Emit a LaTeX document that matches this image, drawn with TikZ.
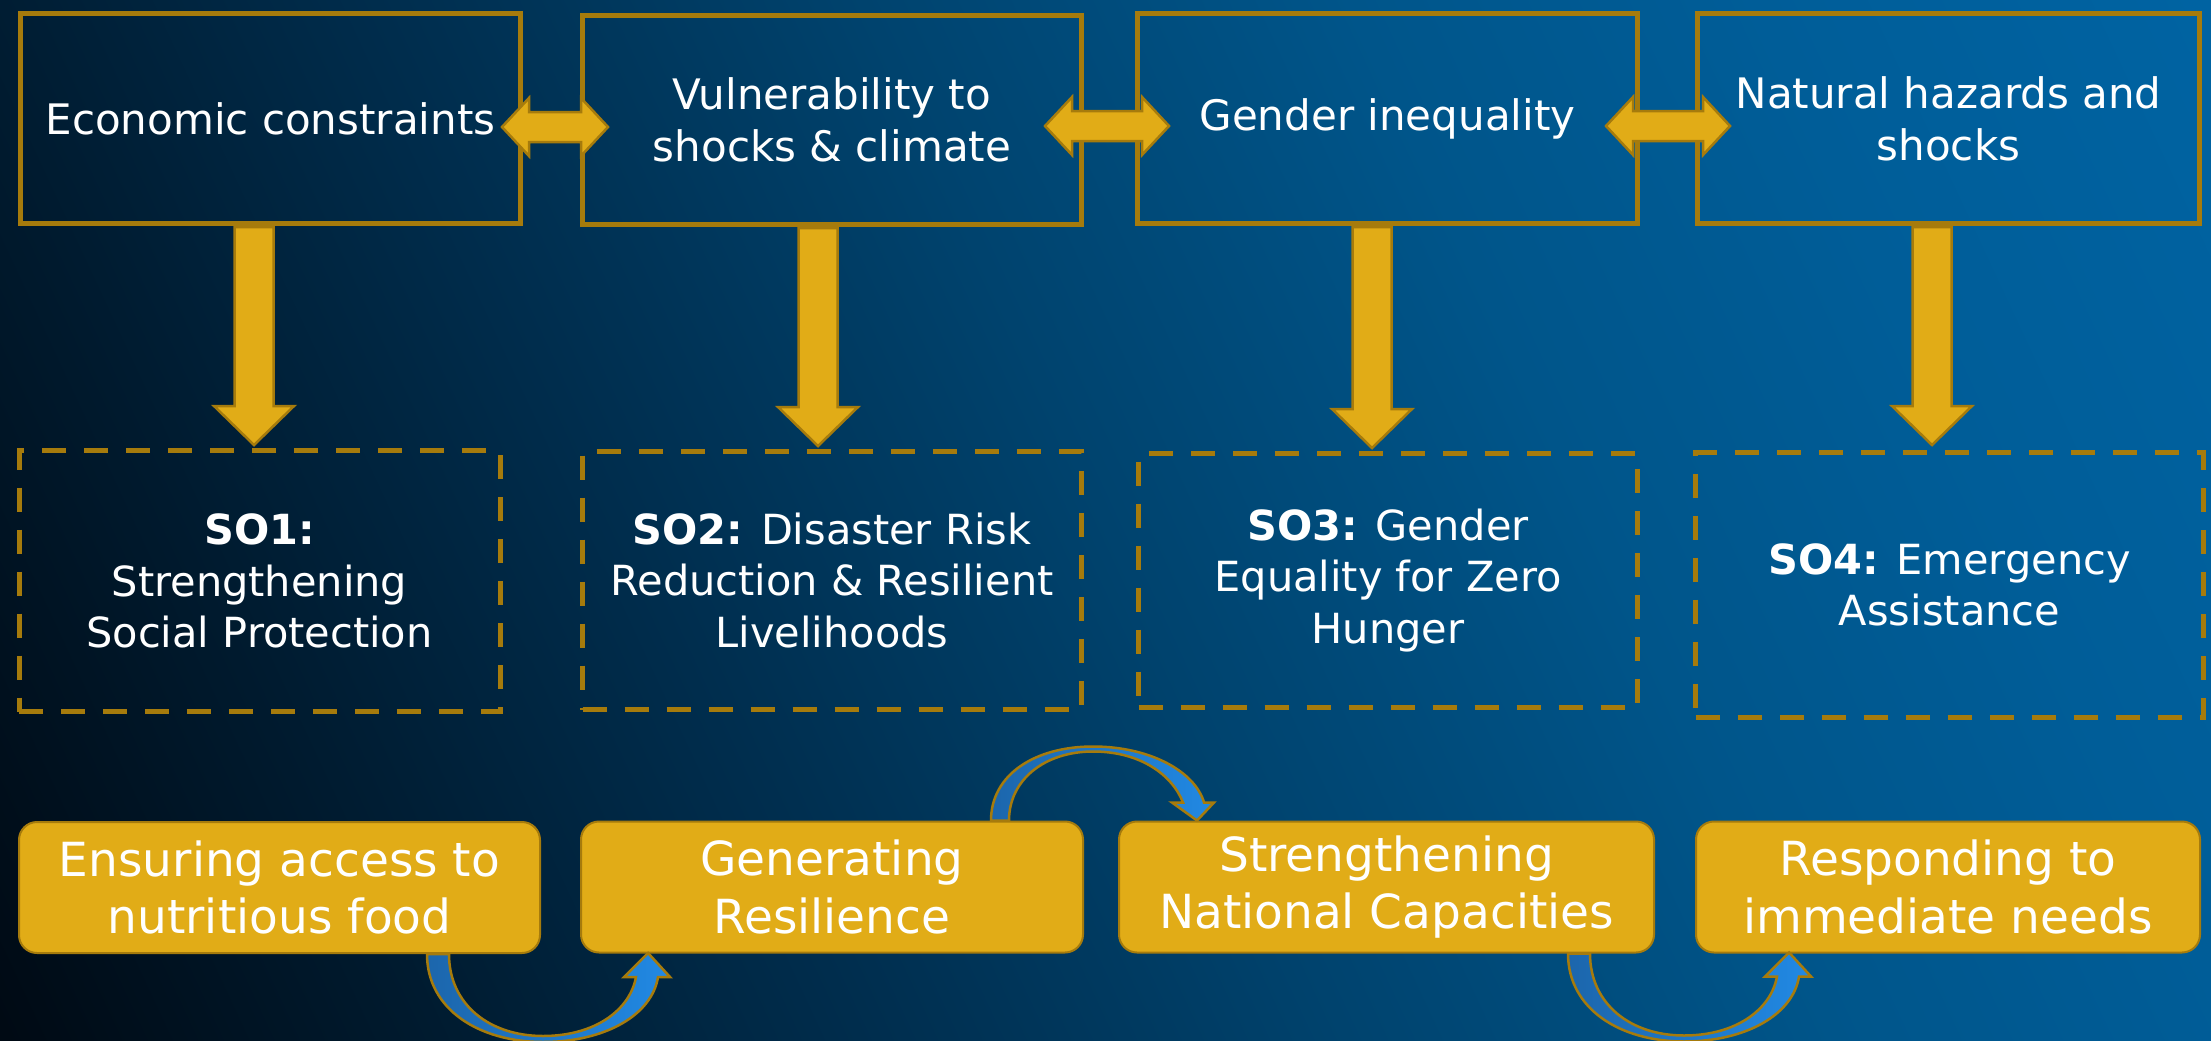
\documentclass[tikz,border=0pt]{standalone}
\usepackage{fontspec}
\setmainfont{DejaVu Sans}
\usetikzlibrary{calc}
\definecolor{goldfill}{HTML}{E1AC17}
\definecolor{goldline}{HTML}{A67B0C}
\definecolor{bga}{HTML}{000A14}
\definecolor{bgb}{HTML}{001A2E}
\definecolor{bgc}{HTML}{002D4D}
\definecolor{bgd}{HTML}{00436E}
\definecolor{bge}{HTML}{00558A}
\definecolor{bgf}{HTML}{005D98}
\definecolor{bgg}{HTML}{0063A2}
\definecolor{bluedark}{HTML}{1C66AC}
\definecolor{bluelight}{HTML}{2189E4}
\pgfdeclarehorizontalshading{bgshade}{100bp}{color(0bp)=(bga); color(17bp)=(bga); color(27bp)=(bgb); color(38bp)=(bgc); color(50bp)=(bgd); color(62bp)=(bge); color(72bp)=(bgf); color(83bp)=(bgg); color(100bp)=(bgg)}
\newcommand\downblock[2]{\draw[goldarrow] ($(#1)+(-19.5,0)$) -- ($(#2)+(-19.5,-39)$) -- ($(#2)+(-40,-39)$) -- (#2) -- ($(#2)+(40,-39)$) -- ($(#2)+(19.5,-39)$) -- ($(#1)+(19.5,0)$) -- cycle;}
\newcommand\dblblock[2]{\draw[goldarrow] (#1) -- ($(#1)+(27,-29)$) -- ($(#1)+(27,-15)$) -- ($(#2)+(-27,-15)$) -- ($(#2)+(-27,-29)$) -- (#2) -- ($(#2)+(-27,29)$) -- ($(#2)+(-27,15)$) -- ($(#1)+(27,15)$) -- ($(#1)+(27,29)$) -- cycle;}
\begin{document}
\begin{tikzpicture}[x=1pt,y=-1pt,
 topbox/.style={draw=goldline, line width=5pt, minimum width=500pt, minimum height=210pt, inner sep=0pt, align=center, text=white, font=\fontsize{42}{51.7}\selectfont},
 sobox/.style={draw=goldline, line width=5pt, dash pattern=on 24pt off 18pt, inner sep=0pt, align=center, text=white, font=\fontsize{41.5}{51.7}\selectfont},
 actbox/.style={draw=goldline, line width=2pt, fill=goldfill, rounded corners=18pt, minimum height=131pt, inner sep=0pt, align=center, text=white, font=\fontsize{47}{57.5}\selectfont},
 goldarrow/.style={draw=goldline, line width=2.5pt, fill=goldfill, line join=miter},
 bluearrow/.style={draw=goldline, line width=2.5pt, left color=bluedark, right color=bluelight},
 lowcurve/.pic={
   \shadedraw[bluearrow] (0,0) .. controls (0,56) and (53,88) .. (116,88)
     .. controls (178,88) and (225,61) .. (231,23) -- (243,23) -- (221,-1) -- (197,23) -- (209,23)
     .. controls (203,56) and (168,82) .. (116,82)
     .. controls (63,82) and (22,51) .. (22,0) -- cycle;
 },
 highcurve/.pic={
   \shadedraw[bluearrow] (0,0) .. controls (0,-46) and (44,-74) .. (102,-74)
     .. controls (159,-74) and (204,-49) .. (213,-18) -- (223,-18) -- (206,0) -- (181,-18) -- (192,-18)
     .. controls (181,-46) and (149,-69) .. (102,-69)
     .. controls (54,-69) and (18,-41) .. (18,0) -- cycle;
 }
]
\useasboundingbox (0,0) rectangle (2211,1041);
\shade[shading=bgshade, shading angle=25] (0,0) rectangle (2211,1041);

% top row
\node[topbox] (t1) at (270.5,118.5) {Economic constraints};
\node[topbox, minimum width=499pt, minimum height=209pt] (t2) at (832,120) {Vulnerability to\\shocks \& climate};
\node[topbox] (t3) at (1387.5,118.5) {Gender inequality};
\node[topbox, minimum width=502pt] (t4) at (1948.5,118.5) {Natural hazards and\\shocks};

% strategic objectives
\node[sobox, minimum width=481pt, minimum height=261pt] (s1) at (259.5,581) {\textbf{SO1:}\\Strengthening\\Social Protection};
\node[sobox, minimum width=499pt, minimum height=258pt] (s2) at (832,580.5) {\textbf{SO2:} Disaster Risk\\Reduction \& Resilient\\Livelihoods};
\node[sobox, minimum width=499pt, minimum height=254pt] (s3) at (1388,580.5) {\textbf{SO3:} Gender\\Equality for Zero\\Hunger};
\node[sobox, minimum width=508pt, minimum height=265pt] (s4) at (1949.5,585) {\textbf{SO4:} Emergency\\Assistance};

% bottom row
\node[actbox, minimum width=521pt] (b1) at (279.5,887.5) {Ensuring access to\\nutritious food};
\node[actbox, minimum width=502pt] (b2) at (832,887) {Generating\\Resilience};
\node[actbox, minimum width=535pt] (b3) at (1386.5,887) {Strengthening\\National Capacities};
\node[actbox, minimum width=504pt] (b4) at (1948,887) {Responding to\\immediate needs};

% down arrows
\coordinate (d1a) at ($(t1.south)+(-16.5,1)$);
\coordinate (d1b) at ($(d1a |- s1.north)+(0,-3)$);
\coordinate (d2a) at ($(t2.south)+(-14,1)$);
\coordinate (d2b) at ($(d2a |- s2.north)+(0,-3)$);
\coordinate (d3a) at ($(t3.south)+(-15.5,1)$);
\coordinate (d3b) at ($(d3a |- s3.north)+(0,-3)$);
\coordinate (d4a) at ($(t4.south)+(-16.5,1)$);
\coordinate (d4b) at ($(d4a |- s4.north)+(0,-5)$);
\downblock{d1a}{d1b}
\downblock{d2a}{d2b}
\downblock{d3a}{d3b}
\downblock{d4a}{d4b}

% double arrows
\coordinate (h1l) at ($(t1.east)+(-21,8.5)$);
\coordinate (h1r) at ($(h1l -| t2.west)+(28,0)$);
\coordinate (h2l) at ($(t2.east)+(-39,6)$);
\coordinate (h2r) at ($(h2l -| t3.west)+(34,0)$);
\coordinate (h3l) at ($(t3.east)+(-34,7.5)$);
\coordinate (h3r) at ($(h3l -| t4.west)+(35,0)$);
\dblblock{h1l}{h1r}
\dblblock{h2l}{h2r}
\dblblock{h3l}{h3r}

% curved arrows
\path (b1.south west) ++(409,0) coordinate (ca);
\path (b2.north west) ++(411,0) coordinate (cb);
\path (b3.south west) ++(450,0) coordinate (cc);
\pic at (ca) {lowcurve};
\pic at (cb) {highcurve};
\pic at (cc) {lowcurve};
\end{tikzpicture}
\end{document}
